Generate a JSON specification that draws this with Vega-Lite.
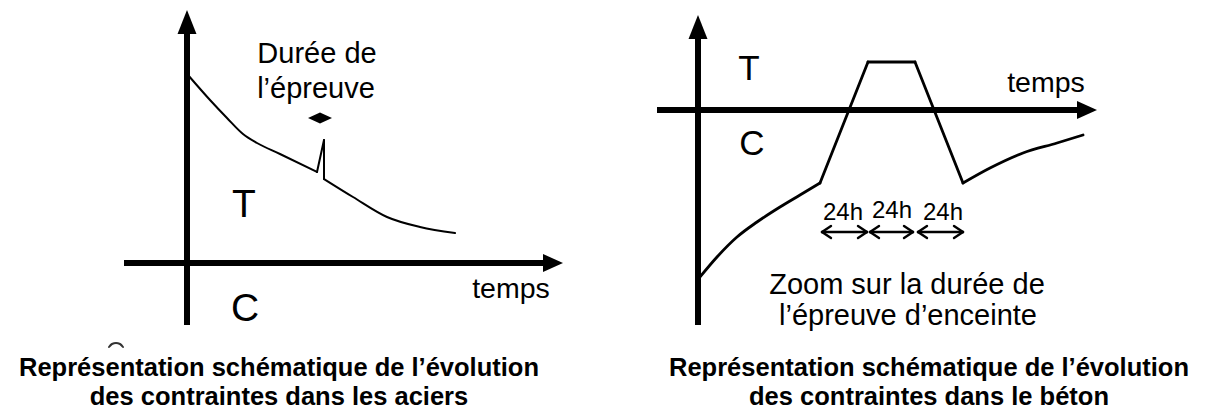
{
  "$schema": "https://vega.github.io/schema/vega-lite/v6.json",
  "width": 1214,
  "height": 412,
  "padding": 0,
  "autosize": {"type": "none"},
  "background": "white",
  "config": {"view": {"stroke": null}},
  "datasets": {
    "traits": [
      {"s": "Ly", "p": "axe", "o": 1, "x": 187, "y": 325},
      {"s": "Ly", "p": "axe", "o": 2, "x": 187, "y": 30},
      {"s": "Lx", "p": "axe", "o": 1, "x": 124, "y": 263},
      {"s": "Lx", "p": "axe", "o": 2, "x": 548, "y": 263},
      {"s": "Ry", "p": "axe", "o": 1, "x": 698, "y": 325},
      {"s": "Ry", "p": "axe", "o": 2, "x": 698, "y": 32},
      {"s": "Rx", "p": "axe", "o": 1, "x": 657, "y": 110},
      {"s": "Rx", "p": "axe", "o": 2, "x": 1082, "y": 110},

      {"s": "a1", "p": "acier", "o": 1, "x": 188, "y": 75},
      {"s": "a1", "p": "acier", "o": 2, "x": 210, "y": 100},
      {"s": "a1", "p": "acier", "o": 3, "x": 227, "y": 118},
      {"s": "a1", "p": "acier", "o": 4, "x": 243, "y": 134},
      {"s": "a1", "p": "acier", "o": 5, "x": 257, "y": 143},
      {"s": "a1", "p": "acier", "o": 6, "x": 280, "y": 154},
      {"s": "a1", "p": "acier", "o": 7, "x": 317, "y": 172},
      {"s": "a2", "p": "acier", "o": 1, "x": 317, "y": 172},
      {"s": "a2", "p": "acier", "o": 2, "x": 324, "y": 140},
      {"s": "a3", "p": "acier", "o": 1, "x": 324, "y": 140},
      {"s": "a3", "p": "acier", "o": 2, "x": 324, "y": 179},
      {"s": "a4", "p": "acier", "o": 1, "x": 324, "y": 179},
      {"s": "a4", "p": "acier", "o": 2, "x": 353, "y": 197},
      {"s": "a4", "p": "acier", "o": 3, "x": 387, "y": 217},
      {"s": "a4", "p": "acier", "o": 4, "x": 420, "y": 227},
      {"s": "a4", "p": "acier", "o": 5, "x": 455, "y": 233},

      {"s": "m1", "p": "trace", "o": 1, "x": 109, "y": 347},
      {"s": "m1", "p": "trace", "o": 2, "x": 112, "y": 344},
      {"s": "m1", "p": "trace", "o": 3, "x": 116, "y": 343},
      {"s": "m1", "p": "trace", "o": 4, "x": 120, "y": 344},
      {"s": "m1", "p": "trace", "o": 5, "x": 123, "y": 347},

      {"s": "b1", "p": "beton", "o": 1, "x": 700, "y": 277},
      {"s": "b1", "p": "beton", "o": 2, "x": 717, "y": 257},
      {"s": "b1", "p": "beton", "o": 3, "x": 737, "y": 237},
      {"s": "b1", "p": "beton", "o": 4, "x": 757, "y": 222},
      {"s": "b1", "p": "beton", "o": 5, "x": 780, "y": 207},
      {"s": "b1", "p": "beton", "o": 6, "x": 800, "y": 195},
      {"s": "b1", "p": "beton", "o": 7, "x": 820, "y": 183},
      {"s": "b2", "p": "beton", "o": 1, "x": 820, "y": 183},
      {"s": "b2", "p": "beton", "o": 2, "x": 868, "y": 62},
      {"s": "b3", "p": "beton", "o": 1, "x": 868, "y": 62},
      {"s": "b3", "p": "beton", "o": 2, "x": 915, "y": 62},
      {"s": "b4", "p": "beton", "o": 1, "x": 915, "y": 62},
      {"s": "b4", "p": "beton", "o": 2, "x": 963, "y": 183},
      {"s": "b5", "p": "beton", "o": 1, "x": 963, "y": 183},
      {"s": "b5", "p": "beton", "o": 2, "x": 990, "y": 168},
      {"s": "b5", "p": "beton", "o": 3, "x": 1023, "y": 153},
      {"s": "b5", "p": "beton", "o": 4, "x": 1057, "y": 143},
      {"s": "b5", "p": "beton", "o": 5, "x": 1083, "y": 135},

      {"s": "f1", "p": "fleche", "o": 1, "x": 822, "y": 232},
      {"s": "f1", "p": "fleche", "o": 2, "x": 867, "y": 232},
      {"s": "f1a", "p": "fleche", "o": 1, "x": 831, "y": 226},
      {"s": "f1a", "p": "fleche", "o": 2, "x": 822, "y": 232},
      {"s": "f1b", "p": "fleche", "o": 1, "x": 822, "y": 232},
      {"s": "f1b", "p": "fleche", "o": 2, "x": 831, "y": 238},
      {"s": "f1c", "p": "fleche", "o": 1, "x": 858, "y": 226},
      {"s": "f1c", "p": "fleche", "o": 2, "x": 867, "y": 232},
      {"s": "f1d", "p": "fleche", "o": 1, "x": 867, "y": 232},
      {"s": "f1d", "p": "fleche", "o": 2, "x": 858, "y": 238},

      {"s": "f2", "p": "fleche", "o": 1, "x": 870, "y": 232},
      {"s": "f2", "p": "fleche", "o": 2, "x": 913, "y": 232},
      {"s": "f2a", "p": "fleche", "o": 1, "x": 879, "y": 226},
      {"s": "f2a", "p": "fleche", "o": 2, "x": 870, "y": 232},
      {"s": "f2b", "p": "fleche", "o": 1, "x": 870, "y": 232},
      {"s": "f2b", "p": "fleche", "o": 2, "x": 879, "y": 238},
      {"s": "f2c", "p": "fleche", "o": 1, "x": 904, "y": 226},
      {"s": "f2c", "p": "fleche", "o": 2, "x": 913, "y": 232},
      {"s": "f2d", "p": "fleche", "o": 1, "x": 913, "y": 232},
      {"s": "f2d", "p": "fleche", "o": 2, "x": 904, "y": 238},

      {"s": "f3", "p": "fleche", "o": 1, "x": 918, "y": 232},
      {"s": "f3", "p": "fleche", "o": 2, "x": 963, "y": 232},
      {"s": "f3a", "p": "fleche", "o": 1, "x": 927, "y": 226},
      {"s": "f3a", "p": "fleche", "o": 2, "x": 918, "y": 232},
      {"s": "f3b", "p": "fleche", "o": 1, "x": 918, "y": 232},
      {"s": "f3b", "p": "fleche", "o": 2, "x": 927, "y": 238},
      {"s": "f3c", "p": "fleche", "o": 1, "x": 954, "y": 226},
      {"s": "f3c", "p": "fleche", "o": 2, "x": 963, "y": 232},
      {"s": "f3d", "p": "fleche", "o": 1, "x": 963, "y": 232},
      {"s": "f3d", "p": "fleche", "o": 2, "x": 954, "y": 238}
    ],
    "pointes": [
      {"d": "haut", "x": 187, "y": 22},
      {"d": "haut", "x": 698, "y": 27},
      {"d": "droite", "x": 553, "y": 263},
      {"d": "droite", "x": 1087, "y": 110},
      {"d": "double", "x": 320, "y": 118}
    ],
    "textes": [
      {"t": "Durée de", "r": "note", "x": 317, "y": 63},
      {"t": "l’épreuve", "r": "note", "x": 316, "y": 98},
      {"t": "T", "r": "zoneA", "x": 244, "y": 217},
      {"t": "C", "r": "zoneA", "x": 245, "y": 321},
      {"t": "temps", "r": "temps", "x": 511, "y": 298},
      {"t": "T", "r": "zoneB", "x": 749, "y": 80},
      {"t": "C", "r": "zoneB", "x": 752, "y": 155},
      {"t": "temps", "r": "temps", "x": 1046, "y": 92},
      {"t": "24h", "r": "h24", "x": 843, "y": 220},
      {"t": "24h", "r": "h24", "x": 892, "y": 218},
      {"t": "24h", "r": "h24", "x": 943, "y": 220},
      {"t": "Zoom sur la durée de", "r": "note", "x": 907, "y": 294},
      {"t": "l’épreuve d’enceinte", "r": "note", "x": 908, "y": 325},
      {"t": "Représentation schématique de l’évolution", "r": "caption", "x": 279, "y": 376},
      {"t": "des contraintes dans les aciers", "r": "caption", "x": 279, "y": 405},
      {"t": "Représentation schématique de l’évolution", "r": "caption", "x": 929, "y": 376},
      {"t": "des contraintes dans le béton", "r": "caption", "x": 929, "y": 405}
    ]
  },
  "encoding": {
    "x": {"field": "x", "type": "quantitative", "scale": {"domain": [0, 1214], "nice": false, "zero": false}, "axis": null},
    "y": {"field": "y", "type": "quantitative", "scale": {"domain": [0, 412], "nice": false, "zero": false, "reverse": true}, "axis": null}
  },
  "layer": [
    {
      "data": {"name": "traits"},
      "transform": [{"filter": "datum.p == 'axe'"}],
      "mark": {"type": "line", "color": "black", "strokeWidth": 6, "strokeCap": "butt"},
      "encoding": {"detail": {"field": "s"}, "order": {"field": "o", "type": "quantitative"}}
    },
    {
      "data": {"name": "traits"},
      "transform": [{"filter": "datum.p == 'acier'"}],
      "mark": {"type": "line", "color": "black", "strokeWidth": 2, "interpolate": "monotone", "strokeCap": "round", "strokeJoin": "round"},
      "encoding": {"detail": {"field": "s"}, "order": {"field": "o", "type": "quantitative"}}
    },
    {
      "data": {"name": "traits"},
      "transform": [{"filter": "datum.p == 'trace'"}],
      "mark": {"type": "line", "color": "#333333", "strokeWidth": 2, "interpolate": "monotone", "strokeCap": "round"},
      "encoding": {"detail": {"field": "s"}, "order": {"field": "o", "type": "quantitative"}}
    },
    {
      "data": {"name": "traits"},
      "transform": [{"filter": "datum.p == 'fleche'"}],
      "mark": {"type": "line", "color": "black", "strokeWidth": 2.4, "interpolate": "monotone", "strokeCap": "round", "strokeJoin": "round"},
      "encoding": {"detail": {"field": "s"}, "order": {"field": "o", "type": "quantitative"}}
    },
    {
      "data": {"name": "traits"},
      "transform": [{"filter": "datum.p == 'beton'"}],
      "mark": {"type": "line", "color": "black", "strokeWidth": 2.8, "interpolate": "monotone", "strokeCap": "round", "strokeJoin": "round"},
      "encoding": {"detail": {"field": "s"}, "order": {"field": "o", "type": "quantitative"}}
    },
    {
      "data": {"name": "pointes"},
      "transform": [{"filter": "datum.d == 'haut'"}],
      "mark": {"type": "point", "filled": true, "color": "black", "opacity": 1, "size": 576, "shape": "M0,-1L0.79,1L-0.79,1Z", "strokeWidth": 0}
    },
    {
      "data": {"name": "pointes"},
      "transform": [{"filter": "datum.d == 'droite'"}],
      "mark": {"type": "point", "filled": true, "color": "black", "opacity": 1, "size": 400, "shape": "M1,0L-1,-0.9L-1,0.9Z", "strokeWidth": 0}
    },
    {
      "data": {"name": "pointes"},
      "transform": [{"filter": "datum.d == 'double'"}],
      "mark": {"type": "point", "filled": true, "color": "black", "opacity": 1, "size": 576, "shape": "M-1,0L0,-0.46L1,0L0,0.46Z", "strokeWidth": 0}
    },
    {
      "data": {"name": "textes"},
      "transform": [{"filter": "datum.r == 'note'"}],
      "mark": {"type": "text", "font": "Liberation Sans", "fontSize": 29, "align": "center", "baseline": "alphabetic", "color": "black"},
      "encoding": {"text": {"field": "t"}}
    },
    {
      "data": {"name": "textes"},
      "transform": [{"filter": "datum.r == 'zoneA'"}],
      "mark": {"type": "text", "font": "Liberation Sans", "fontSize": 39, "align": "center", "baseline": "alphabetic", "color": "black"},
      "encoding": {"text": {"field": "t"}}
    },
    {
      "data": {"name": "textes"},
      "transform": [{"filter": "datum.r == 'zoneB'"}],
      "mark": {"type": "text", "font": "Liberation Sans", "fontSize": 35, "align": "center", "baseline": "alphabetic", "color": "black"},
      "encoding": {"text": {"field": "t"}}
    },
    {
      "data": {"name": "textes"},
      "transform": [{"filter": "datum.r == 'temps'"}],
      "mark": {"type": "text", "font": "Liberation Sans", "fontSize": 28.5, "align": "center", "baseline": "alphabetic", "color": "black"},
      "encoding": {"text": {"field": "t"}}
    },
    {
      "data": {"name": "textes"},
      "transform": [{"filter": "datum.r == 'h24'"}],
      "mark": {"type": "text", "font": "Liberation Sans", "fontSize": 24, "align": "center", "baseline": "alphabetic", "color": "black"},
      "encoding": {"text": {"field": "t"}}
    },
    {
      "data": {"name": "textes"},
      "transform": [{"filter": "datum.r == 'caption'"}],
      "mark": {"type": "text", "font": "Liberation Sans", "fontSize": 25.5, "fontWeight": "bold", "align": "center", "baseline": "alphabetic", "color": "black"},
      "encoding": {"text": {"field": "t"}}
    }
  ]
}
